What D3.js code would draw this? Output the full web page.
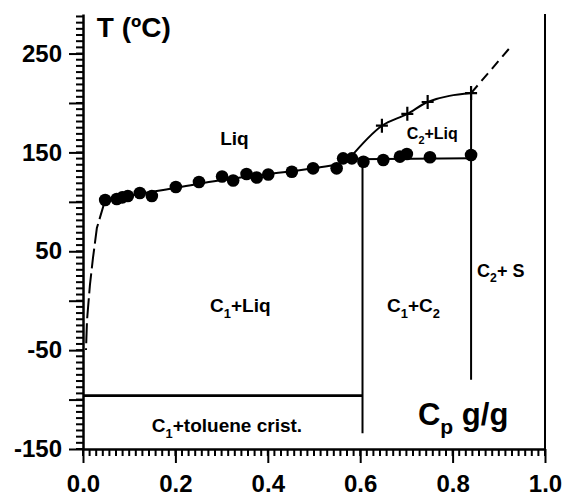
<!DOCTYPE html>
<html>
<head>
<meta charset="utf-8">
<script src="https://cdn.jsdelivr.net/npm/d3@7"></script>
<style>
  body { margin: 0; background: #fff; }
  text { font-family: "Liberation Sans", Arial, sans-serif; font-weight: bold; fill: #000; }
</style>
</head>
<body>
<script>
// measured points (x = Cp g/g, t = T in ºC)
var circleX = [0.048, 0.073, 0.085, 0.097, 0.123, 0.149, 0.201, 0.251, 0.301, 0.325, 0.354, 0.376, 0.401, 0.452, 0.498, 0.549, 0.563, 0.582, 0.607, 0.650, 0.686, 0.701, 0.751, 0.840];
var circleT = [101.9, 102.9, 104.5, 105.9, 108.9, 105.9, 115.0, 120.1, 125.6, 121.6, 128.2, 124.6, 127.7, 130.5, 133.9, 133.9, 144.0, 144.0, 140.6, 142.3, 145.7, 148.4, 145.1, 147.4];

var crossX = [0.647, 0.702, 0.746, 0.840];
var crossT = [177, 189, 201, 210];

// liquidus through the circles
var liqX = [0.048, 0.1, 0.2, 0.3, 0.4, 0.5, 0.55, 0.585, 0.84];
var liqT = [101, 106, 114, 122, 128, 134, 138, 143, 144];

// C2 + Liq upper boundary
var upperX = [0.575, 0.647, 0.702, 0.746, 0.840];
var upperT = [143, 177, 189, 201, 210];

// dashed extrapolations
var dashRightX = [0.840, 0.929];
var dashRightT = [210, 258.6];
var dashLeftX = [0.048, 0.030, 0.0216, 0.015, 0.0087, 0.0065];
var dashLeftT = [101.9, 73.5, 43.2, 15.9, -19.5, -49.9];

// straight phase boundaries [x1, t1, x2, t2]
var boundaries = [
  [0, -96, 0.605, -96],
  [0.605, -134, 0.605, 141],
  [0.84, -80, 0.84, 210],
  [1.0, -150, 1.0, 290]
];

var xTickLabels = [0.0, 0.2, 0.4, 0.6, 0.8, 1.0];
var yTickLabels = [250, 150, 50, -50, -150];

var svg = d3.select('body').append('svg')
  .attr('width', 563)
  .attr('height', 499);

var margin = { top: 14, right: 18, bottom: 50, left: 83 },
  width = +svg.attr('width') - margin.left - margin.right,
  height = +svg.attr('height') - margin.top - margin.bottom,
  g = svg.append('g').attr('transform', 'translate(' + margin.left + ',' + margin.top + ')');

var x = d3.scaleLinear().domain([0, 1]).range([0, width]);
var y = d3.scaleLinear().domain([-150, 290]).range([height, 0]);

function zip(xs, ts) { return xs.map(function (v, i) { return [v, ts[i]]; }); }

var line = d3.line()
  .x(function (d) { return x(d[0]); })
  .y(function (d) { return y(d[1]); });

// minor ticks
var xMinorVals = d3.range(0, 71).map(function (i) { return i / 70; });
var yMinorVals = d3.range(0, 71).map(function (i) { return -150 + i * 6.25; });

g.append('g')
  .attr('transform', 'translate(0,' + height + ')')
  .selectAll('rect')
  .data(xMinorVals)
  .enter().append('rect')
  .attr('x', function (d) { return x(d) - 1; })
  .attr('y', 0)
  .attr('width', 2)
  .attr('height', 7)
  .attr('fill', '#000');

g.append('g')
  .selectAll('rect')
  .data(yMinorVals)
  .enter().append('rect')
  .attr('x', -7)
  .attr('y', function (d) { return y(d) - 1; })
  .attr('width', 7)
  .attr('height', 2)
  .attr('fill', '#000');

// major ticks with labels
var xAxis = g.append('g')
  .attr('transform', 'translate(0,' + height + ')')
  .call(d3.axisBottom(x).tickValues(xTickLabels)
    .tickSize(14).tickSizeOuter(0).tickPadding(12).tickFormat(d3.format('.1f')));

var yAxis = g.append('g')
  .call(d3.axisLeft(y).tickValues(d3.range(-150, 291, 50))
    .tickSize(14).tickSizeOuter(0).tickPadding(7)
    .tickFormat(function (d) { return yTickLabels.indexOf(d) > -1 ? d : ''; }));

[xAxis, yAxis].forEach(function (a) {
  a.selectAll('text').style('font-size', '24px').style('font-family', '"Liberation Sans", Arial, sans-serif').style('font-weight', 'bold');
  a.selectAll('path, line').attr('stroke', '#000').attr('stroke-width', 2);
});
g.selectAll('.domain').attr('stroke', '#000').attr('stroke-width', 2.5);

// phase boundaries
g.append('g')
  .selectAll('line')
  .data(boundaries)
  .enter().append('line')
  .attr('x1', function (d) { return x(d[0]); })
  .attr('y1', function (d) { return y(d[1]); })
  .attr('x2', function (d) { return x(d[2]); })
  .attr('y2', function (d) { return y(d[3]); })
  .attr('stroke', '#000')
  .attr('stroke-width', function (d, i) { return i == 0 ? 2.6 : 2; });

g.append('path')
  .datum(zip(liqX, liqT))
  .attr('fill', 'none')
  .attr('stroke', '#000')
  .attr('stroke-width', 2)
  .attr('d', line.curve(d3.curveMonotoneX));

g.append('path')
  .datum(zip(upperX, upperT))
  .attr('fill', 'none')
  .attr('stroke', '#000')
  .attr('stroke-width', 2)
  .attr('d', line.curve(d3.curveMonotoneX));

line.curve(d3.curveLinear);

g.append('path')
  .datum(zip(dashRightX, dashRightT))
  .attr('fill', 'none')
  .attr('stroke', '#000')
  .attr('stroke-width', 2)
  .attr('stroke-dasharray', '10,6')
  .attr('d', line);

g.append('path')
  .datum(zip(dashLeftX, dashLeftT))
  .attr('fill', 'none')
  .attr('stroke', '#000')
  .attr('stroke-width', 2)
  .attr('stroke-dasharray', '20,5')
  .attr('d', line);

// circles
g.append('g')
  .selectAll('circle')
  .data(zip(circleX, circleT))
  .enter().append('circle')
  .attr('cx', function (d) { return x(d[0]); })
  .attr('cy', function (d) { return y(d[1]); })
  .attr('r', 6.3)
  .attr('fill', '#000');

// crosses
g.append('g')
  .selectAll('path')
  .data(zip(crossX, crossT))
  .enter().append('path')
  .attr('transform', function (d) { return 'translate(' + x(d[0]) + ',' + y(d[1]) + ')'; })
  .attr('d', 'M-6,0H6M0,-7V7')
  .attr('stroke', '#000')
  .attr('stroke-width', 2.2);

// labels: parts are [text, subscript?]
function label(px, pt, parts, size) {
  var t = g.append('text')
    .attr('x', x(px))
    .attr('y', y(pt))
    .style('font-size', size + 'px');
  var down = false;
  parts.forEach(function (p) {
    var s = t.append('tspan').text(p[0]);
    if (p[1] && !down) { s.attr('dy', size * 0.3).style('font-size', (size * 0.68) + 'px'); down = true; }
    else if (!p[1] && down) { s.attr('dy', -size * 0.3); down = false; }
  });
  return t;
}

label(0.030, 266.7, [['T (ºC)']], 28);
label(0.297, 157.5, [['Liq']], 19);
label(0.701, 163.6, [['C'], ['2', true], ['+Liq']], 16);
label(0.275, -11.4, [['C'], ['1', true], ['+Liq']], 19);
label(0.658, -11.4, [['C'], ['1', true], ['+C'], ['2', true]], 19);
label(0.853, 24, [['C'], ['2', true], ['+ S']], 18);
label(0.149, -132.8, [['C'], ['1', true], ['+toluene crist.']], 19);
label(0.725, -125.7, [['C'], ['p', true], [' g/g']], 31);
</script>
</body>
</html>
